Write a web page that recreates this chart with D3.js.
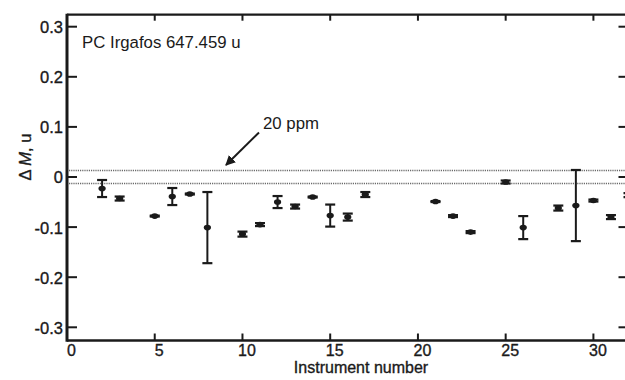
<!DOCTYPE html>
<html><head><meta charset="utf-8">
<script src="https://cdn.jsdelivr.net/npm/d3@7"></script>
<style>
html,body{margin:0;padding:0;background:#fff;}
svg text{font-family:"Liberation Sans",Arial,sans-serif;fill:#1a1a1a;}
</style></head>
<body><svg id="c" width="625" height="380"></svg>
<script>
// Data
const instruments = [2,3,5,6,7,8,10,11,12,13,14,15,16,17,21,22,23,25,26,28,29,30,31,32];
const deltaM = [-0.023,-0.043,-0.078,-0.039,-0.034,-0.101,-0.114,-0.095,-0.050,-0.059,-0.040,-0.077,-0.080,-0.035,-0.049,-0.078,-0.110,-0.010,-0.101,-0.062,-0.057,-0.047,-0.080,-0.036];
const errors = [0.017,0.004,0.001,0.017,0.001,0.071,0.005,0.003,0.012,0.004,0.001,0.022,0.007,0.005,0.001,0.002,0.002,0.003,0.023,0.005,0.071,0.002,0.004,0.004];
const xTicks = [0,5,10,15,20,25,30];
const yTicks = [-0.3,-0.2,-0.1,0,0.1,0.2,0.3];
const refMass = 647.459;
const ppmLimit = 20;
const label = "PC Irgafos 647.459 u";

const svg = d3.select("#c");
const x = d3.scaleLinear().domain([0,32]).range([67,628.5]);
const y = d3.scaleLinear().domain([-0.3,0.3]).range([327.3,26.7]);
const frameTop = 14.7, frameBottom = 340.5;
const ink = "#1a1a1a";

// ppm band
const band = refMass*ppmLimit*1e-6;
[band,-band].forEach(v=>{
  svg.append("line").attr("x1",x(0)+2).attr("x2",625).attr("y1",y(v)).attr("y2",y(v))
    .attr("stroke","#6a6a6a").attr("stroke-width",1.6).attr("stroke-dasharray","1.2,1");
});

// frame
svg.append("line").attr("x1",x(0)).attr("x2",625).attr("y1",frameTop).attr("y2",frameTop).attr("stroke",ink).attr("stroke-width",2.2);
svg.append("line").attr("x1",x(0)).attr("x2",625).attr("y1",frameBottom).attr("y2",frameBottom).attr("stroke",ink).attr("stroke-width",2.6);
svg.append("line").attr("x1",x(0)).attr("x2",x(0)).attr("y1",frameTop-1).attr("y2",frameBottom+1.3).attr("stroke",ink).attr("stroke-width",3);

// bottom axis ticks & labels
const xb = d3.axisBottom(x).tickValues(xTicks).tickSize(0).tickFormat(d=>String(d));
const gx = svg.append("g").attr("transform",`translate(0,${frameBottom})`).call(xb);
gx.select(".domain").remove();
gx.selectAll("text").attr("dy",0).attr("y",15.5).attr("dx",4).style("font-size","16px")
  .attr("stroke",ink).attr("stroke-width",0.35).attr("fill",ink);
xTicks.filter(d=>d>0).forEach(d=>{
  svg.append("line").attr("x1",x(d)).attr("x2",x(d)).attr("y1",frameBottom).attr("y2",frameBottom-7).attr("stroke",ink).attr("stroke-width",2);
  svg.append("line").attr("x1",x(d)).attr("x2",x(d)).attr("y1",frameTop).attr("y2",frameTop+6).attr("stroke",ink).attr("stroke-width",2);
});

// left axis
const yl = d3.axisLeft(y).tickValues(yTicks).tickSize(0).tickFormat(d=>Math.abs(d)<1e-9?"0":d.toFixed(1));
const gy = svg.append("g").attr("transform",`translate(${x(0)-4},0)`).call(yl);
gy.select(".domain").remove();
gy.selectAll("text").attr("x",0).attr("dy","0.36em").style("font-size","16.5px")
  .attr("stroke",ink).attr("stroke-width",0.35).attr("fill",ink);
yTicks.forEach(d=>{
  svg.append("line").attr("x1",x(0)).attr("x2",x(0)+10).attr("y1",y(d)).attr("y2",y(d)).attr("stroke",ink).attr("stroke-width",2);
  svg.append("line").attr("x1",x(32)).attr("x2",x(32)-10).attr("y1",y(d)).attr("y2",y(d)).attr("stroke",ink).attr("stroke-width",2);
});

// error bars
const g = svg.append("g");
instruments.forEach((d,i)=>{
  const cx = x(d), m = deltaM[i], e = errors[i];
  g.append("line").attr("x1",cx).attr("x2",cx).attr("y1",y(m+e)).attr("y2",y(m-e)).attr("stroke",ink).attr("stroke-width",2);
  [m+e,m-e].forEach(v=>g.append("line").attr("x1",cx-5).attr("x2",cx+5).attr("y1",y(v)).attr("y2",y(v)).attr("stroke",ink).attr("stroke-width",2.2));
  g.append("ellipse").attr("cx",cx).attr("cy",y(m)).attr("rx",3.6).attr("ry",2.8).attr("fill",ink);
});

// annotation
svg.append("text").attr("x",82).attr("y",47.5).style("font-size","16.8px").text(label);
svg.append("text").attr("x",263).attr("y",128.5).style("font-size","16.8px").text(ppmLimit+" ppm");
svg.append("defs").append("marker").attr("id","ah").attr("viewBox","0 0 10 10").attr("refX",9).attr("refY",5)
  .attr("markerWidth",5).attr("markerHeight",5).attr("orient","auto")
  .append("path").attr("d","M0,0L10,5L0,10z").attr("fill",ink);
svg.append("line").attr("x1",259).attr("y1",132.5).attr("x2",226).attr("y2",165).attr("stroke",ink).attr("stroke-width",2).attr("marker-end","url(#ah)");

// axis titles
svg.append("text").attr("x",361).attr("y",373).attr("text-anchor","middle").style("font-size","16px")
  .attr("stroke",ink).attr("stroke-width",0.35).text("Instrument number");
const yt = svg.append("text").attr("transform","translate(31,157) rotate(-90)").attr("text-anchor","middle")
  .style("font-size","16.5px").attr("stroke",ink).attr("stroke-width",0.35);
yt.append("tspan").text("Δ ");
yt.append("tspan").style("font-style","italic").text("M");
yt.append("tspan").text(", u");
</script></body></html>
